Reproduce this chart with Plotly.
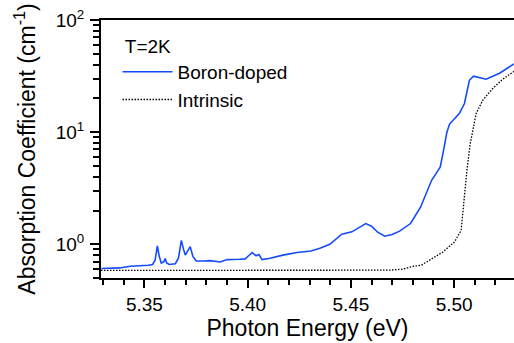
import plotly.graph_objects as go

# Boron-doped spectrum (photon energy eV, absorption cm^-1)
boron_E = [5.3292, 5.3330, 5.3380, 5.3432, 5.3480, 5.3519, 5.3540, 5.3552, 5.3563, 5.3572,
           5.3582, 5.3595, 5.3601, 5.3608, 5.3620, 5.3650, 5.3665, 5.3679, 5.3690, 5.3698,
           5.3708, 5.3722, 5.3735, 5.3751, 5.3790, 5.3819, 5.3867, 5.3901, 5.3960, 5.3988,
           5.4005, 5.4022, 5.4041, 5.4055, 5.4070, 5.4109, 5.4171, 5.4239, 5.4307, 5.4350,
           5.4398, 5.4456, 5.4505, 5.4540, 5.4572, 5.4600, 5.4630, 5.4664, 5.4700, 5.4736,
           5.4789, 5.4838, 5.4872, 5.4891, 5.4910, 5.4933, 5.4949, 5.4965, 5.4978, 5.5026,
           5.5050, 5.5074, 5.5094, 5.5120, 5.5155, 5.5220, 5.5290]
boron_A = [0.607, 0.610, 0.615, 0.636, 0.640, 0.650, 0.660, 0.720, 0.965, 0.780,
           0.680, 0.700, 0.745, 0.680, 0.660, 0.670, 0.750, 1.080, 0.900, 0.800,
           0.860, 0.953, 0.780, 0.710, 0.710, 0.715, 0.695, 0.730, 0.735, 0.740,
           0.790, 0.843, 0.790, 0.810, 0.730, 0.750, 0.800, 0.843, 0.870, 0.920,
           1.000, 1.230, 1.290, 1.400, 1.530, 1.450, 1.280, 1.180, 1.220, 1.310,
           1.530, 2.150, 3.030, 3.720, 4.200, 4.900, 6.900, 10.00, 11.80, 14.70,
           18.00, 29.00, 31.60, 30.80, 29.60, 33.50, 40.60]

# Intrinsic spectrum
intr_E = [5.3290, 5.3600, 5.4000, 5.4400, 5.4688, 5.4752, 5.4801, 5.4841, 5.4881, 5.4946,
          5.5002, 5.5034, 5.5042, 5.5050, 5.5055, 5.5062, 5.5078, 5.5107, 5.5139, 5.5187,
          5.5235, 5.5290]
intr_A = [0.585, 0.585, 0.585, 0.585, 0.587, 0.600, 0.636, 0.650, 0.720, 0.854,
          1.050, 1.330, 1.880, 2.830, 3.720, 4.580, 7.900, 14.70, 19.30, 24.50,
          29.60, 34.80]

x_ticks = [5.35, 5.40, 5.45, 5.50]
x_ticklabels = ["5.35", "5.40", "5.45", "5.50"]
y_ticks = [1, 10, 100]
y_ticklabels = ["10<sup>0</sup>", "10<sup>1</sup>", "10<sup>2</sup>"]

FONT = "Liberation Sans, Arial, sans-serif"
FS = 19

fig = go.Figure()
fig.add_trace(go.Scatter(x=boron_E, y=boron_A, mode="lines", name="Boron-doped",
                         line=dict(color="rgb(20,75,255)", width=1.6)))
fig.add_trace(go.Scatter(x=intr_E, y=intr_A, mode="lines", name="Intrinsic",
                         line=dict(color="black", width=1.3, dash="1.5px,1.5px")))

fig.update_layout(
    width=514, height=343,
    margin=dict(l=101, r=0, t=20, b=65, autoexpand=False),
    paper_bgcolor="white", plot_bgcolor="white",
    font=dict(family=FONT, size=FS, color="black"),
    showlegend=True,
    legend=dict(x=0.04, y=0.968, xanchor="left", yanchor="top",
                bgcolor="rgba(0,0,0,0)", title=dict(text="\u00a0T=2K", font=dict(size=FS)),
                font=dict(size=FS), itemwidth=50, tracegroupgap=0),
)
fig.update_xaxes(
    range=[5.329, 5.529], tickvals=x_ticks, ticktext=x_ticklabels,
    ticks="outside", ticklen=8, tickwidth=2, tickcolor="black",
    showline=True, linewidth=2, linecolor="black", mirror=True,
    showgrid=False, zeroline=False, automargin=False,
    minor=dict(dtick=0.01, ticks="outside", ticklen=5, tickwidth=1.5, tickcolor="black", showgrid=False),
    title=dict(text="Photon Energy (eV)", standoff=4),
)
fig.update_yaxes(
    type="log", range=[-0.301, 2.0], tickvals=y_ticks, ticktext=y_ticklabels,
    ticks="outside", ticklen=9, tickwidth=2, tickcolor="black", ticklabelstandoff=2,
    showline=True, linewidth=2, linecolor="black", mirror=False,
    showgrid=False, zeroline=False, automargin=False,
    minor=dict(dtick="D1", ticks="outside", ticklen=6, tickwidth=1.5, tickcolor="black", showgrid=False),
    title=dict(text="Absorption Coefficient (cm<sup>-1</sup>)", standoff=14),
)
fig.write_html("out.html", config={"displayModeBar": False},
               post_script="document.body.style.margin='0';document.body.style.overflow='hidden';")
